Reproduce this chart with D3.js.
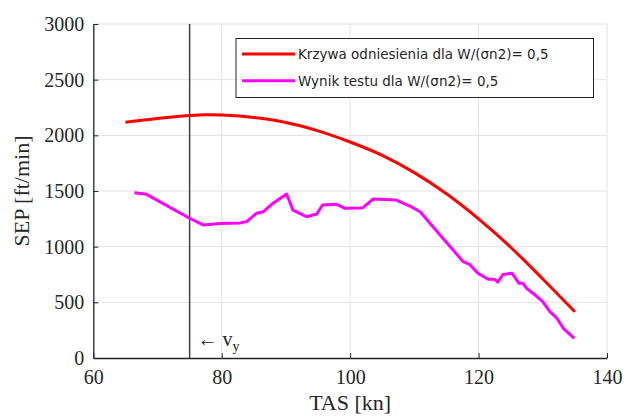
<!DOCTYPE html>
<html><head><meta charset="utf-8">
<script src="https://cdn.jsdelivr.net/npm/d3@7"></script>
<style>body{margin:0;background:#fff}</style>
</head><body>
<script>
// Reference curve (Krzywa odniesienia)
const refTAS = [65, 70, 75, 77.5, 80, 85, 90, 95, 100, 105, 110, 115, 120, 125, 130, 135];
const refSEP = [2118, 2152, 2178, 2185, 2182, 2160, 2115, 2040, 1940, 1820, 1665, 1475, 1250, 995, 710, 415];
// Test result (Wynik testu)
const testTAS = [66.4, 68.3, 75.0, 77.1, 79.7, 82.8, 83.9, 85.4, 86.5, 88.0, 90.1, 91.1, 93.2, 94.8, 95.7, 97.9, 99.2, 101.5, 102.0, 103.6, 107.2, 109.3, 110.9, 114.0, 115.6, 117.6, 118.6, 119.9, 121.5, 122.5, 123.0, 123.8, 125.2, 125.6, 126.3, 126.9, 127.5, 128.6, 130.0, 131.1, 132.2, 133.2, 134.9];
const testSEP = [1485, 1470, 1255, 1195, 1208, 1212, 1225, 1300, 1314, 1390, 1473, 1329, 1269, 1293, 1374, 1380, 1344, 1348, 1350, 1428, 1419, 1365, 1314, 1105, 1000, 865, 841, 761, 707, 707, 682, 750, 761, 730, 671, 671, 626, 575, 506, 416, 357, 267, 177];
const xTicks = [60, 80, 100, 120, 140];
const yTicks = [0, 500, 1000, 1500, 2000, 2500, 3000];
const vyTAS = 75;
const legendLabels = ["Krzywa odniesienia dla W/(σn2)= 0,5", "Wynik testu dla W/(σn2)= 0,5"];
const colors = ["#ff0000", "#ff00ff"];

const W = 626, H = 417;
const m = {l: 93.3, r: W - 607, t: 24, b: H - 358};
const svg = d3.select("body").append("svg").attr("width", W).attr("height", H);
const x = d3.scaleLinear().domain([60, 140]).range([m.l, W - m.r]);
const y = d3.scaleLinear().domain([0, 3000]).range([H - m.b, m.t]);

// grid
const g = svg.append("g");
g.selectAll(".gx").data(xTicks.slice(1)).enter().append("line")
  .attr("x1", d => x(d)).attr("x2", d => x(d)).attr("y1", y(0)).attr("y2", y(3000))
  .attr("stroke", "#e3e3e3").attr("stroke-width", 1);
g.selectAll(".gy").data(yTicks.slice(1)).enter().append("line")
  .attr("x1", x(60)).attr("x2", x(140)).attr("y1", d => y(d)).attr("y2", d => y(d))
  .attr("stroke", "#e3e3e3").attr("stroke-width", 1);

const serif = "'Liberation Serif', 'DejaVu Serif', serif";
// axes
const xa = svg.append("g").attr("transform", `translate(0,${y(0)})`)
  .call(d3.axisBottom(x).tickValues(xTicks).tickFormat(d3.format("d")).tickSizeInner(-5).tickSizeOuter(0).tickPadding(12));
const ya = svg.append("g").attr("transform", `translate(${x(60)},0)`)
  .call(d3.axisLeft(y).tickValues(yTicks).tickFormat(d3.format("d")).tickSizeInner(-5).tickSizeOuter(0).tickPadding(9));
[xa, ya].forEach(a => {
  a.attr("font-family", serif).attr("font-size", 20);
  a.select(".domain").attr("stroke", "#262626").attr("stroke-width", 1.3);
  a.selectAll(".tick line").attr("stroke", "#262626").attr("stroke-width", 1);
  a.selectAll(".tick text").attr("fill", "#262626").style("font-family", serif).style("font-size", "20px");
});

// vertical line at v_y
svg.append("line").attr("x1", x(vyTAS)).attr("x2", x(vyTAS)).attr("y1", y(0)).attr("y2", y(3000))
  .attr("stroke", "#404040").attr("stroke-width", 1.5);

svg.append("path").datum(refTAS.map((t, i) => [t, refSEP[i]]))
  .attr("d", d3.line().x(d => x(d[0])).y(d => y(d[1])).curve(d3.curveCatmullRom))
  .attr("fill", "none").attr("stroke", colors[0]).attr("stroke-width", 3);
svg.append("path").datum(testTAS.map((t, i) => [t, testSEP[i]]))
  .attr("d", d3.line().x(d => x(d[0])).y(d => y(d[1]))).attr("fill", "none").attr("stroke", colors[1])
  .attr("stroke-width", 3).attr("stroke-linejoin", "round");

// v_y annotation
const ann = svg.append("text").attr("x", x(vyTAS) + 8).attr("y", y(0) - 12)
  .style("font-family", serif).style("font-size", "20px").attr("fill", "#262626");
ann.append("tspan").text("← v");
ann.append("tspan").attr("dy", 5).style("font-size", "14px").text("y");

// axis labels
svg.append("text").attr("x", (x(60) + x(140)) / 2).attr("y", 410).attr("text-anchor", "middle")
  .style("font-family", serif).style("font-size", "22px").attr("fill", "#262626").text("TAS [kn]");
svg.append("text").attr("transform", `translate(29,${(y(0) + y(3000)) / 2}) rotate(-90)`).attr("text-anchor", "middle")
  .style("font-family", serif).style("font-size", "22px").attr("fill", "#262626").text("SEP [ft/min]");

// legend
const lg = svg.append("g");
lg.append("rect").attr("x", 236).attr("y", 38.5).attr("width", 357.5).attr("height", 59)
  .attr("fill", "#fff").attr("stroke", "#262626").attr("stroke-width", 1);
legendLabels.forEach((lab, i) => {
  const ly = 54 + i * 26.7;
  lg.append("line").attr("x1", 242).attr("x2", 295).attr("y1", ly).attr("y2", ly)
    .attr("stroke", colors[i]).attr("stroke-width", 3);
  lg.append("text").attr("x", 298).attr("y", ly + 5).style("font-family", "'DejaVu Sans', sans-serif")
    .style("font-size", "13.5px").attr("fill", "#262626").text(lab);
});
</script>
</body></html>
